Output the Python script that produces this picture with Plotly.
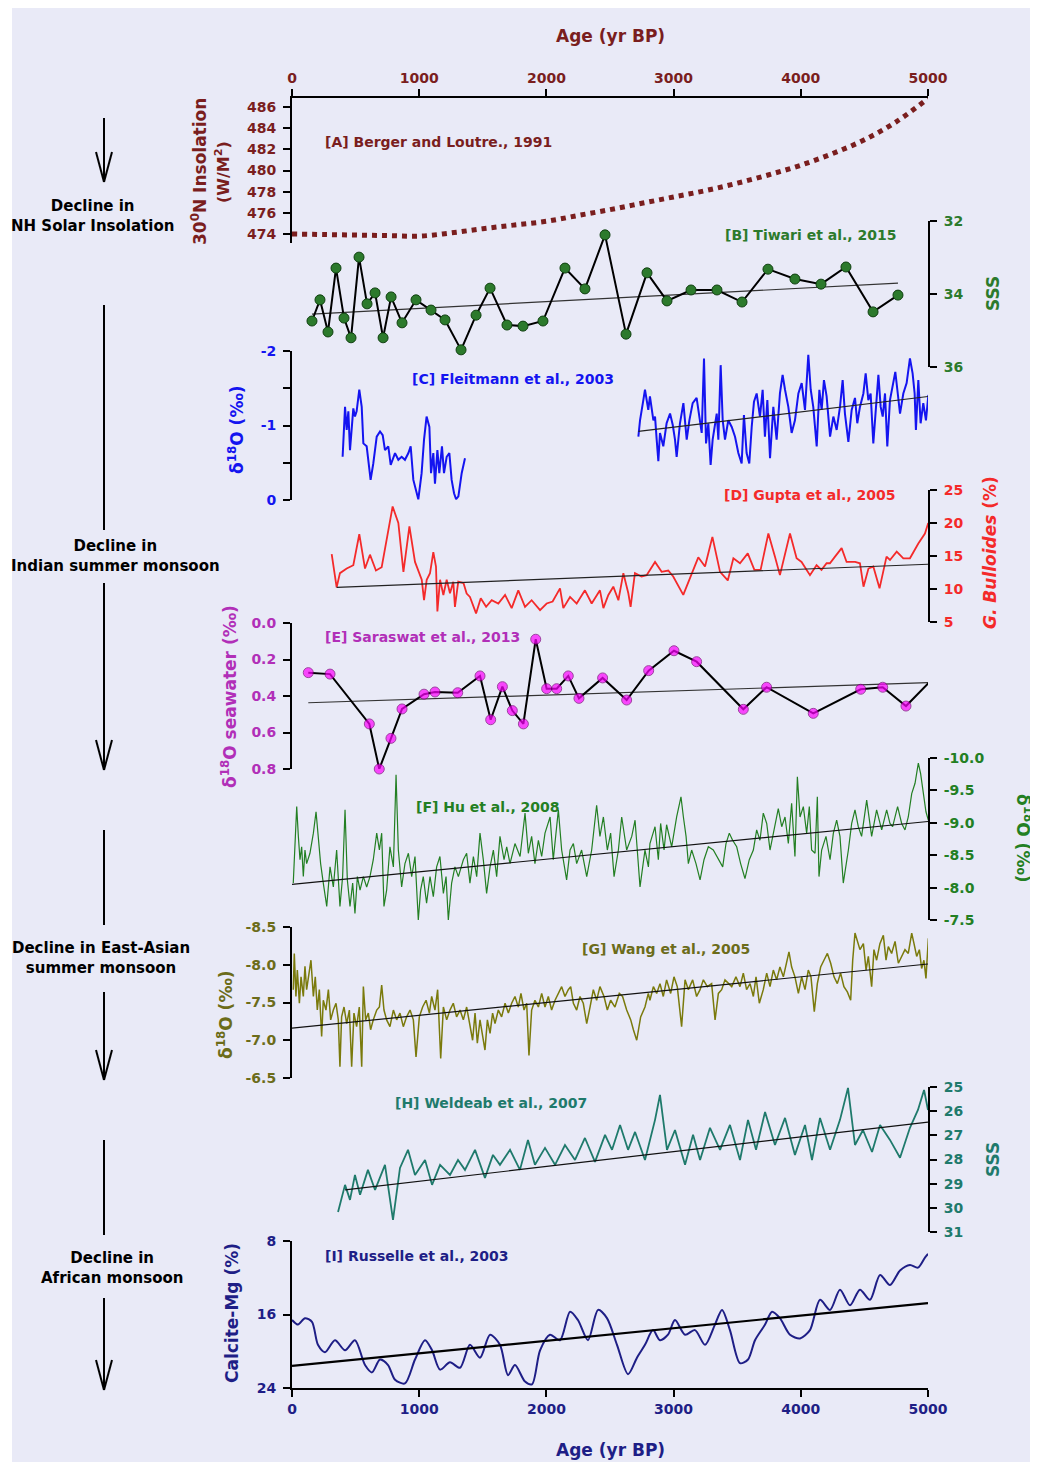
import plotly.graph_objects as go

# ---------------- data ----------------
ins_age = [0, 250, 500, 750, 1000, 1250, 1500, 1750, 2000, 2250, 2500, 2750, 3000,
           3250, 3500, 3750, 4000, 4250, 4500, 4750, 5000]
ins_val = [474.0, 473.95, 473.9, 473.85, 473.8, 474.1, 474.5, 474.85, 475.2, 475.75,
           476.3, 476.9, 477.5, 478.1, 478.8, 479.6, 480.5, 481.6, 482.9, 484.6, 486.8]

tiw_age = [157, 220, 283, 346, 409, 464, 527, 590, 653, 716, 779, 865, 975, 1093, 1203,
           1329, 1447, 1557, 1690, 1816, 1973, 2146, 2303, 2461, 2626, 2791, 2948, 3137,
           3341, 3538, 3742, 3954, 4159, 4355, 4568, 4764]
tiw_sss = [34.74, 34.16, 35.04, 33.29, 34.66, 35.2, 32.99, 34.27, 33.97, 35.2, 34.08,
           34.79, 34.16, 34.44, 34.71, 35.53, 34.58, 33.84, 34.85, 34.88, 34.74, 33.29,
           33.86, 32.38, 35.10, 33.42, 34.19, 33.89, 33.89, 34.22, 33.32, 33.59, 33.73,
           33.26, 34.49, 34.03]
tiw_trend_age = [157, 4764]
tiw_trend_val = [34.55, 33.70]

fle_age_a = [398, 417, 430, 443, 456, 469, 482, 495, 508, 529, 548, 561, 587, 618, 639,
             666, 692, 713, 731, 757, 776, 810, 836, 862, 888, 915, 933, 954, 975, 993,
             1019, 1038, 1058, 1080, 1093, 1111, 1124, 1143, 1158, 1179, 1195, 1216,
             1237, 1255, 1274, 1290, 1308, 1334, 1360]
fle_val_a = [-0.58, -1.25, -0.94, -1.19, -0.67, -0.94, -1.23, -1.12, -1.19, -1.48, -1.25,
             -0.76, -0.72, -0.27, -0.49, -0.85, -0.92, -0.87, -0.67, -0.72, -0.47, -0.63,
             -0.54, -0.58, -0.54, -0.63, -0.72, -0.27, -0.13, -0.01, -0.36, -0.81, -1.12,
             -0.98, -0.36, -0.63, -0.22, -0.67, -0.36, -0.72, -0.36, -0.58, -0.63, -0.27,
             -0.09, -0.01, -0.05, -0.36, -0.56]
fle_age_b = [2723, 2736, 2762, 2775, 2801, 2814, 2841, 2854, 2867, 2880, 2893, 2919, 2945,
             2972, 2993, 3011, 3024, 3050, 3077, 3103, 3124, 3150, 3181, 3208, 3221, 3239,
             3255, 3273, 3291, 3307, 3339, 3352, 3370, 3386, 3404, 3430, 3457, 3483, 3509,
             3535, 3553, 3574, 3595, 3614, 3632, 3653, 3679, 3700, 3718, 3737, 3758, 3784,
             3810, 3836, 3857, 3876, 3902, 3928, 3954, 3981, 4007, 4033, 4059, 4078, 4098,
             4125, 4146, 4164, 4182, 4203, 4230, 4256, 4282, 4308, 4329, 4347, 4374, 4400,
             4426, 4444, 4465, 4492, 4510, 4531, 4549, 4570, 4591, 4610, 4628, 4644, 4662,
             4680, 4701, 4722, 4743, 4759, 4780, 4806, 4832, 4858, 4879, 4895, 4905, 4924,
             4942, 4963, 4984, 5003]
fle_val_b = [-0.85, -1.07, -1.34, -1.48, -1.21, -1.39, -1.07, -1.12, -0.81, -0.52, -0.90,
             -0.72, -1.03, -1.16, -1.01, -0.81, -0.58, -1.03, -1.30, -0.81, -1.07, -1.30,
             -1.37, -1.07, -0.90, -1.90, -0.76, -1.03, -0.47, -0.81, -1.16, -0.81, -1.81,
             -1.07, -0.81, -1.07, -0.98, -0.85, -0.63, -0.49, -1.14, -0.63, -0.49, -0.98,
             -1.32, -1.43, -1.12, -1.48, -0.85, -1.34, -0.56, -1.25, -0.81, -1.43, -1.68,
             -1.48, -1.25, -0.90, -1.07, -1.43, -1.57, -1.21, -1.95, -1.48, -1.25, -0.72,
             -1.48, -1.21, -1.61, -1.39, -0.85, -1.12, -0.94, -1.25, -1.61, -1.16, -0.78,
             -1.21, -1.37, -1.03, -1.25, -1.43, -1.70, -1.34, -1.43, -0.76, -1.25, -1.68,
             -1.25, -1.12, -1.43, -0.72, -1.34, -1.52, -1.72, -1.48, -1.16, -1.43, -1.57,
             -1.90, -1.70, -1.43, -0.94, -1.61, -1.03, -1.30, -1.07, -1.41]
fle_trend_age = [2723, 5003]
fle_trend_val = [-0.92, -1.39]

gup_age = [312, 351, 377, 430, 482, 529, 574, 613, 660, 705, 791, 836, 876, 923, 967,
           1020, 1038, 1059, 1085, 1111, 1132, 1143, 1164, 1190, 1216, 1242, 1268, 1281,
           1307, 1348, 1373, 1399, 1447, 1484, 1526, 1570, 1622, 1675, 1727, 1779, 1832,
           1884, 1950, 2002, 2049, 2107, 2133, 2186, 2238, 2303, 2356, 2421, 2448, 2487,
           2526, 2566, 2605, 2644, 2662, 2696, 2748, 2788, 2854, 2906, 2958, 2997, 3076,
           3129, 3194, 3247, 3305, 3365, 3426, 3470, 3522, 3583, 3635, 3684, 3745, 3797,
           3836, 3915, 3967, 4006, 4072, 4124, 4163, 4203, 4229, 4269, 4321, 4360, 4427,
           4465, 4493, 4532, 4570, 4619, 4674, 4701, 4754, 4806, 4858, 4924, 4976, 5002]
gup_val = [15.3, 10.25, 12.4, 13.1, 13.6, 18.3, 13.1, 15.2, 12.8, 13.3, 22.5, 20.0, 12.6,
           19.5, 14.1, 11.4, 8.3, 11.4, 12.4, 15.6, 13.4, 6.6, 11.4, 9.1, 11.4, 9.35, 11.1,
           7.3, 11.1, 10.9, 9.3, 8.8, 6.3, 8.6, 7.3, 8.3, 7.8, 9.1, 7.1, 9.8, 7.3, 8.3, 6.8,
           7.8, 8.1, 10.1, 7.1, 8.8, 7.8, 9.8, 7.8, 9.8, 7.1, 9.1, 10.35, 8.3, 12.4, 9.35,
           7.3, 12.4, 11.9, 12.1, 14.1, 12.6, 12.8, 11.9, 9.1, 11.6, 14.8, 13.4, 17.9, 12.6,
           11.3, 14.65, 13.9, 15.4, 12.9, 12.9, 18.4, 14.9, 12.1, 18.4, 14.65, 14.1, 12.1,
           13.6, 12.9, 13.9, 13.9, 14.9, 16.2, 14.1, 14.1, 13.9, 10.35, 13.1, 13.4, 10.1,
           14.9, 14.4, 15.65, 14.65, 14.65, 16.9, 18.4, 20.0]
gup_trend_age = [351, 5000]
gup_trend_val = [10.25, 13.75]

sar_age = [128, 299, 608, 686, 778, 865, 1038, 1124, 1303, 1478, 1562, 1654, 1732, 1819,
           1916, 2002, 2081, 2172, 2256, 2442, 2631, 2804, 3003, 3181, 3548, 3731, 4098,
           4471, 4644, 4827, 5003]
sar_val = [0.272, 0.28, 0.553, 0.80, 0.632, 0.471, 0.39, 0.378, 0.382, 0.29, 0.53, 0.349,
           0.48, 0.553, 0.089, 0.36, 0.36, 0.29, 0.413, 0.301, 0.422, 0.261, 0.152, 0.212,
           0.473, 0.352, 0.495, 0.363, 0.352, 0.455, 0.33]
sar_trend_age = [128, 5003]
sar_trend_val = [0.437, 0.327]

hu_age = [10, 24, 37, 50, 63, 76, 89, 102, 115, 141, 168, 189, 207, 225, 246, 273, 299, 325,
          351, 377, 398, 417, 435, 456, 477, 495, 514, 535, 561, 587, 613, 639, 666, 687,
          705, 723, 744, 770, 797, 818, 836, 862, 888, 915, 941, 967, 993, 1011, 1032, 1058,
          1085, 1111, 1137, 1163, 1190, 1211, 1229, 1255, 1281, 1308, 1347, 1373, 1399,
          1426, 1452, 1478, 1504, 1530, 1557, 1583, 1609, 1635, 1667, 1688, 1714, 1753,
          1793, 1832, 1858, 1884, 1910, 1937, 1963, 1989, 2029, 2054, 2094, 2120, 2159,
          2186, 2212, 2238, 2277, 2317, 2356, 2395, 2421, 2448, 2479, 2505, 2532, 2566,
          2592, 2631, 2671, 2697, 2736, 2775, 2802, 2814, 2854, 2880, 2898, 2925, 2945,
          2966, 2985, 3024, 3058, 3077, 3098, 3116, 3142, 3176, 3208, 3239, 3273, 3312,
          3352, 3386, 3412, 3438, 3464, 3496, 3527, 3561, 3595, 3627, 3653, 3679, 3705,
          3732, 3758, 3784, 3805, 3823, 3850, 3876, 3902, 3928, 3954, 3973, 3994, 4020,
          4046, 4067, 4085, 4112, 4130, 4143, 4164, 4198, 4230, 4256, 4282, 4308, 4334,
          4374, 4400, 4426, 4452, 4478, 4518, 4557, 4596, 4636, 4675, 4701, 4722, 4761,
          4793, 4819, 4845, 4872, 4898, 4924, 4942, 4963, 4984, 5003]
hu_val = [-8.07, -8.58, -9.25, -8.79, -8.43, -8.63, -8.17, -8.58, -8.37, -8.53,
          -8.84, -9.17, -8.79, -8.37, -8.07, -7.71, -8.32, -8.01, -8.58, -7.71,
          -8.17, -9.20, -8.12, -7.71, -8.07, -7.60, -8.17, -7.96, -8.17, -8.01,
          -8.17, -8.43, -8.84, -8.58, -8.84, -7.71, -7.96, -8.63, -8.32, -9.74,
          -8.58, -8.01, -8.37, -8.53, -8.17, -8.48, -7.50, -7.96, -8.17, -7.76,
          -8.17, -7.86, -8.32, -8.48, -7.91, -8.17, -7.50, -8.07, -8.32, -8.17,
          -8.43, -8.53, -8.07, -8.48, -8.17, -8.84, -8.43, -7.91, -8.32, -8.58,
          -8.17, -8.79, -8.43, -8.63, -8.37, -8.68, -8.48, -9.15, -8.53, -8.79,
          -8.37, -8.73, -8.48, -8.84, -9.09, -8.43, -9.20, -8.58, -8.12, -8.58,
          -8.68, -8.37, -8.58, -8.17, -8.58, -9.27, -8.79, -9.09, -8.58, -8.84,
          -8.17, -8.58, -9.09, -8.58, -8.79, -9.04, -8.01, -8.58, -8.32,
          -8.68, -8.94, -8.43, -8.99, -8.58, -8.97, -8.79, -8.63, -9.09, -9.40,
          -9.09, -8.79, -8.37, -8.58, -8.37, -8.12, -8.43, -8.63, -8.58, -8.43,
          -8.32, -8.68, -8.84, -8.73, -8.63, -8.37, -8.14, -8.43, -8.58, -8.89,
          -8.73, -9.15, -8.99, -8.58, -8.84, -9.09, -9.22, -8.94, -9.09, -8.68,
          -9.30, -8.48, -9.71, -9.09, -9.25, -8.84, -9.25, -8.58, -8.53, -9.40,
          -8.17, -8.58, -8.79, -8.43, -8.84, -9.04, -8.79, -8.07, -8.58, -8.99,
          -9.20, -8.94, -8.79, -9.35, -8.79, -9.20, -8.89, -9.20, -8.99, -8.94,
          -9.25, -8.99, -8.89, -9.09, -9.45, -9.61, -9.92, -9.76, -9.45, -9.17,
          -9.04]
hu_trend_age = [0, 5000]
hu_trend_val = [-8.05, -9.02]

wang_age = [10, 18, 31, 42, 58, 71, 89, 102, 115, 134, 149, 168, 183, 199, 215, 233, 246,
            267, 286, 304, 325, 346, 364, 377, 390, 409, 430, 451, 469, 487, 508, 529, 548,
            561, 579, 600, 618, 639, 666, 687, 705, 723, 744, 770, 797, 823, 849, 875, 901,
            928, 954, 975, 1001, 1027, 1054, 1080, 1098, 1124, 1145, 1169, 1190, 1216, 1242,
            1268, 1294, 1321, 1347, 1373, 1399, 1420, 1439, 1457, 1478, 1499, 1517, 1536,
            1557, 1577, 1596, 1622, 1648, 1675, 1701, 1727, 1753, 1779, 1800, 1824, 1845,
            1863, 1884, 1910, 1937, 1963, 1989, 2015, 2041, 2068, 2094, 2120, 2146, 2172,
            2191, 2212, 2238, 2264, 2290, 2317, 2343, 2369, 2395, 2421, 2453, 2479, 2505,
            2539, 2573, 2599, 2631, 2663, 2684, 2710, 2741, 2775, 2801, 2814, 2841, 2867,
            2893, 2919, 2945, 2977, 3003, 3029, 3063, 3090, 3116, 3150, 3181, 3208, 3234,
            3265, 3299, 3326, 3352, 3378, 3404, 3430, 3457, 3490, 3522, 3548, 3574, 3601,
            3627, 3648, 3674, 3705, 3732, 3758, 3784, 3810, 3836, 3863, 3889, 3907, 3928,
            3954, 3981, 4007, 4033, 4059, 4080, 4106, 4130, 4156, 4182, 4209, 4235, 4261,
            4287, 4313, 4339, 4366, 4392, 4408, 4426, 4444, 4465, 4492, 4513, 4531, 4557,
            4575, 4596, 4622, 4649, 4670, 4688, 4714, 4741, 4767, 4793, 4819, 4845, 4872,
            4890, 4911, 4932, 4950, 4968, 4984, 5003]
wang_val = [-7.67, -8.15, -7.58, -7.93, -7.49, -7.84, -7.58, -7.98, -7.67, -7.89,
            -8.06, -7.58, -7.84, -7.40, -7.67, -7.05, -7.53, -7.40, -7.67, -7.27,
            -7.40, -7.49, -7.27, -6.65, -7.31, -7.44, -7.22, -7.40, -6.65, -7.36,
            -7.18, -7.44, -6.65, -7.71, -7.27, -7.36, -7.14, -7.27, -7.40, -7.44,
            -7.73, -7.40, -7.27, -7.18, -7.40, -7.27, -7.36, -7.18, -7.31, -7.40,
            -7.27, -6.78, -7.31, -7.44, -7.53, -7.36, -7.58, -7.40, -7.67, -6.76,
            -7.44, -7.27, -7.40, -7.49, -7.31, -7.40, -7.27, -7.44, -7.18, -7.00,
            -7.36, -6.96, -7.27, -7.05, -6.87, -7.27, -7.09, -7.36, -7.22, -7.40,
            -7.31, -7.49, -7.36, -7.49, -7.58, -7.44, -7.62, -7.40, -7.49, -6.80,
            -7.40, -7.53, -7.44, -7.62, -7.44, -7.58, -7.40, -7.53, -7.62, -7.71,
            -7.58, -7.67, -7.71, -7.49, -7.40, -7.58, -7.49, -7.22, -7.44, -7.67,
            -7.53, -7.71, -7.58, -7.40, -7.53, -7.44, -7.62, -7.58, -7.40, -7.27,
            -7.14, -7.00, -7.31, -7.44, -7.62,
            -7.53, -7.71, -7.62, -7.75, -7.58, -7.80, -7.62, -7.84, -7.71, -7.18,
            -7.80, -7.67, -7.80, -7.58, -7.67, -7.80, -7.71, -7.75, -7.27, -7.62,
            -7.67, -7.80, -7.75, -7.71, -7.84, -7.71, -7.89, -7.67, -7.75, -7.58,
            -7.84, -7.49, -7.67, -7.89, -7.71, -7.93, -7.80, -7.97, -7.84, -8.02,
            -8.17, -7.97, -7.84, -7.62, -7.84, -7.67, -7.93, -7.84, -7.38, -7.75,
            -7.97, -8.06, -8.15, -8.02, -7.84, -7.75, -7.89, -7.71, -7.64, -7.53,
            -8.06, -8.42, -8.33, -8.20, -8.28, -7.93, -8.11, -7.71, -8.20, -8.06,
            -8.28, -8.39, -8.06, -8.24, -8.15, -8.31, -8.02, -8.11, -8.20, -8.15,
            -8.42, -8.28, -8.11, -8.20, -7.95, -8.06, -7.82, -8.35]
wang_trend_age = [0, 5000]
wang_trend_val = [-7.16, -8.01]

wel_age = [362, 417, 456, 495, 535, 597, 653, 731, 794, 849, 912, 967, 1046, 1101, 1164,
           1242, 1305, 1360, 1439, 1517, 1580, 1635, 1714, 1792, 1855, 1910, 1989, 2068,
           2146, 2225, 2303, 2382, 2461, 2516, 2579, 2642, 2697, 2775, 2854, 2893, 2948,
           3011, 3090, 3153, 3208, 3286, 3365, 3443, 3522, 3585, 3648, 3719, 3797, 3876,
           3954, 4033, 4088, 4151, 4230, 4308, 4371, 4426, 4489, 4560, 4623, 4701, 4780,
           4858, 4921, 4969, 5000]
wel_sss = [30.17, 29.05, 29.67, 28.64, 29.46, 28.43, 29.26, 28.22, 30.50, 28.35,
           27.60, 28.64, 28.02, 29.05, 28.22, 28.64, 28.02, 28.43, 27.60, 28.76,
           27.81, 28.22, 27.60, 28.43, 27.19, 28.22, 27.52, 28.22, 27.40, 28.02,
           27.11, 28.10, 26.98, 27.60, 26.57, 27.60, 26.86, 28.02, 26.36, 25.33,
           27.60, 26.78, 28.22, 26.98, 28.02, 26.69, 27.60, 26.57, 28.02, 26.36,
           27.60, 26.03, 27.40, 26.28, 27.81, 26.57, 28.02, 26.28, 27.60, 26.36,
           25.04, 27.40, 26.78, 27.69, 26.57, 27.19, 27.93, 26.69, 25.95, 25.12, 25.95]
wel_trend_age = [417, 5000]
wel_trend_val = [29.26, 26.45]

rus_age = [0, 47, 102, 157, 204, 259, 338, 417, 495, 574, 629, 692, 755, 810, 888, 967,
           1046, 1101, 1164, 1242, 1321, 1399, 1478, 1557, 1635, 1698, 1753, 1832, 1887,
           1950, 2028, 2107, 2186, 2248, 2327, 2406, 2476, 2555, 2642, 2712, 2775, 2838,
           2893, 2956, 3011, 3090, 3168, 3247, 3325, 3381, 3443, 3522, 3585, 3640, 3719,
           3774, 3836, 3915, 3994, 4072, 4151, 4230, 4308, 4387, 4465, 4544, 4623, 4701,
           4780, 4858, 4921, 4976, 5000]
rus_val = [16.6, 17.1, 16.4, 16.8, 19.3, 20.1, 18.8, 19.9, 18.8, 21.5, 22.3, 20.9, 21.5,
           23.1, 23.5, 20.9, 18.8, 19.9, 22.0, 21.2, 21.8, 19.3, 20.7, 18.2, 19.3, 22.6,
           21.5, 23.3, 23.6, 19.9, 18.2, 18.8, 15.7, 16.6, 18.8, 15.5, 16.4, 19.3, 22.5,
           20.7, 19.3, 17.7, 18.8, 18.2, 16.6, 18.2, 17.7, 19.3, 17.1, 15.5, 17.7, 21.3,
           20.9, 18.8, 17.1, 15.7, 16.4, 18.2, 18.6, 17.7, 14.4, 15.5, 13.3, 15.0, 13.3,
           14.4, 11.7, 12.8, 11.2, 10.6, 10.9, 9.8, 9.4]
rus_trend_age = [0, 5000]
rus_trend_val = [21.6, 14.75]

age_ticks = [0, 1000, 2000, 3000, 4000, 5000]

# ---------------- styling ----------------
FONT = "DejaVu Sans"
# the page body has an 8 px margin, so the figure is drawn 8 px smaller
W, H = 1030, 1454
L, R, T, B = 284, 110, 90, 74
PW, PH = W - L - R, H - T - B
OX, OY = 292, 1388   # plot-area origin in screen pixels

C_A = "#7A1E1E"
C_B = "#2C7A2C"
C_C = "#1414F0"
C_D = "#F42A2A"
C_E = "#FF00FF"
C_Et = "#B12FB8"
C_F = "#237F23"
C_G = "#7A7A0C"
C_Gt = "#6C6C1A"
C_H = "#1F7A6C"
C_I = "#1E1E86"


def fx(x):
    return (x - OX) / PW


def fy(y):
    return (OY - y) / PH


def dom(ytop, ybot):
    return [fy(ybot), fy(ytop)]


def yax(side, domain, rng, tickvals, ticktext, color):
    return dict(domain=domain, range=rng, side=side, anchor="x",
                showline=True, linecolor="black", linewidth=2,
                ticks="outside", ticklen=7, tickwidth=2, tickcolor="black",
                tickvals=tickvals, ticktext=ticktext,
                tickfont=dict(family=FONT, size=14, color=color, weight="bold"),
                ticklabelstandoff=4,
                showgrid=False, zeroline=False, fixedrange=True)


fig = go.Figure()

# A
fig.add_trace(go.Scatter(x=ins_age, y=ins_val, xaxis="x2", yaxis="y", mode="lines",
                         line=dict(color=C_A, width=5, dash="dot", shape="spline"),
                         showlegend=False))
# B
fig.add_trace(go.Scatter(x=tiw_trend_age, y=tiw_trend_val, yaxis="y2", mode="lines",
                         line=dict(color="#333333", width=1.2), showlegend=False))
fig.add_trace(go.Scatter(x=tiw_age, y=tiw_sss, yaxis="y2", mode="lines+markers",
                         line=dict(color="black", width=2),
                         marker=dict(color=C_B, size=10, line=dict(color="#104010", width=1)),
                         cliponaxis=False, showlegend=False))
# C
fig.add_trace(go.Scatter(x=fle_age_a, y=fle_val_a, yaxis="y3", mode="lines",
                         line=dict(color=C_C, width=2), showlegend=False))
fig.add_trace(go.Scatter(x=fle_age_b, y=fle_val_b, yaxis="y3", mode="lines",
                         line=dict(color=C_C, width=2), showlegend=False))
fig.add_trace(go.Scatter(x=fle_trend_age, y=fle_trend_val, yaxis="y3", mode="lines",
                         line=dict(color="#222222", width=1.2), showlegend=False))
# D
fig.add_trace(go.Scatter(x=gup_age, y=gup_val, yaxis="y4", mode="lines",
                         line=dict(color=C_D, width=1.8), showlegend=False))
fig.add_trace(go.Scatter(x=gup_trend_age, y=gup_trend_val, yaxis="y4", mode="lines",
                         line=dict(color="#222222", width=1.2), showlegend=False))
# E
fig.add_trace(go.Scatter(x=sar_trend_age, y=sar_trend_val, yaxis="y5", mode="lines",
                         line=dict(color="#333333", width=1.2), showlegend=False))
fig.add_trace(go.Scatter(x=sar_age, y=sar_val, yaxis="y5", mode="lines+markers",
                         line=dict(color="black", width=2),
                         marker=dict(color=C_E, size=[10] * (len(sar_age) - 1) + [0],
                                     line=dict(color="#7A007A", width=1)),
                         cliponaxis=False, showlegend=False))
# F
fig.add_trace(go.Scatter(x=hu_age, y=hu_val, yaxis="y6", mode="lines",
                         line=dict(color=C_F, width=1.2), showlegend=False))
fig.add_trace(go.Scatter(x=hu_trend_age, y=hu_trend_val, yaxis="y6", mode="lines",
                         line=dict(color="#111111", width=1.2), showlegend=False))
# G
fig.add_trace(go.Scatter(x=wang_age, y=wang_val, yaxis="y7", mode="lines",
                         line=dict(color=C_G, width=1.5), showlegend=False))
fig.add_trace(go.Scatter(x=wang_trend_age, y=wang_trend_val, yaxis="y7", mode="lines",
                         line=dict(color="#111111", width=1.2), showlegend=False))
# H
fig.add_trace(go.Scatter(x=wel_age, y=wel_sss, yaxis="y8", mode="lines",
                         line=dict(color=C_H, width=1.8), showlegend=False))
fig.add_trace(go.Scatter(x=wel_trend_age, y=wel_trend_val, yaxis="y8", mode="lines",
                         line=dict(color="#111111", width=1.2), showlegend=False))
# I
fig.add_trace(go.Scatter(x=rus_age, y=rus_val, yaxis="y9", mode="lines",
                         line=dict(color=C_I, width=2, shape="spline", smoothing=0.8),
                         showlegend=False))
fig.add_trace(go.Scatter(x=rus_trend_age, y=rus_trend_val, yaxis="y9", mode="lines",
                         line=dict(color="black", width=2.2), showlegend=False))

xcommon = dict(range=[0, 5000], tickvals=age_ticks, showgrid=False, zeroline=False,
               showline=True, linecolor="black", linewidth=2, ticks="outside",
               ticklen=7, tickwidth=2, tickcolor="black", fixedrange=True)

layout = dict(
    width=W, height=H,
    margin=dict(l=L, r=R, t=T, b=B),
    paper_bgcolor="white", plot_bgcolor="rgba(0,0,0,0)",
    showlegend=False,
    xaxis=dict(**xcommon, anchor="y9", side="bottom",
               tickfont=dict(family=FONT, size=14, color=C_I, weight="bold")),
    xaxis2=dict(**xcommon, anchor="y", side="top", overlaying="x",
                tickfont=dict(family=FONT, size=14, color=C_A, weight="bold")),
    yaxis=yax("left", dom(98, 243), [473.15, 486.85], [474, 476, 478, 480, 482, 484, 486],
              ["474", "476", "478", "480", "482", "484", "486"], C_A),
    yaxis2=yax("right", dom(221, 367), [36, 32], [32, 34, 36], ["32", "34", "36"], C_B),
    yaxis3=yax("left", dom(351, 500), [0, -2], [-2, -1.5, -1, -0.5, 0],
               ["-2", " ", "-1", " ", "0"], C_C),
    yaxis4=yax("right", dom(490, 622), [5, 25], [5, 10, 15, 20, 25],
               ["5", "10", "15", "20", "25"], C_D),
    yaxis5=yax("left", dom(623, 769), [0.8, 0.0], [0.0, 0.2, 0.4, 0.6, 0.8],
               ["0.0", "0.2", "0.4", "0.6", "0.8"], C_Et),
    yaxis6=yax("right", dom(758, 920), [-7.5, -10.0], [-10, -9.5, -9, -8.5, -8, -7.5],
               ["-10.0", "-9.5", "-9.0", "-8.5", "-8.0", "-7.5"], C_F),
    yaxis7=yax("left", dom(927, 1078), [-6.5, -8.5], [-8.5, -8, -7.5, -7, -6.5],
               ["-8.5", "-8.0", "-7.5", "-7.0", "-6.5"], C_Gt),
    yaxis8=yax("right", dom(1087, 1232), [31, 25], [25, 26, 27, 28, 29, 30, 31],
               ["25", "26", "27", "28", "29", "30", "31"], C_H),
    yaxis9=yax("left", dom(1241, 1388), [24, 8], [8, 16, 24], ["8", "16", "24"], C_I),
)
fig.update_layout(**layout)

ann = []


def text(x, y, s, color, size=14, angle=0, xanchor="center", align="center"):
    ann.append(dict(x=fx(x), y=fy(y), xref="paper", yref="paper", text=s,
                    showarrow=False, textangle=angle, xanchor=xanchor, yanchor="middle",
                    align=align,
                    font=dict(family=FONT, size=size, color=color, weight="bold")))


# axis titles
text(610, 36, "Age (yr BP)", C_A, 17)
text(610, 1450, "Age (yr BP)", C_I, 17)
text(199, 172, "30<sup>0</sup>N Insolation", C_A, 17, -90)
text(222, 172, "(W/M<sup>2</sup>)", C_A, 16, -90)
text(236, 430, "δ<sup>18</sup>O (‰)", C_C, 17, -90)
text(229, 697, "δ<sup>18</sup>O seawater (‰)", C_Et, 17, -90)
text(225, 1015, "δ<sup>18</sup>O (‰)", C_Gt, 17, -90)
text(232, 1313, "Calcite-Mg (%)", C_I, 17, -90)
text(993, 294, "SSS", C_B, 17, -90)
text(990, 553, "<i>G. Bulloides</i> (%)", C_D, 17, -90)
text(1024, 838, "δ<sup>18</sup>O (‰)", C_F, 17, 90)
text(993, 1160, "SSS", C_H, 17, -90)

# panel labels
text(323, 142, "[A] Berger and Loutre., 1991", C_A, 14, xanchor="left")
text(898, 235, "[B] Tiwari et al., 2015", C_B, 14, xanchor="right")
text(410, 379, "[C] Fleitmann et al., 2003", C_C, 14, xanchor="left")
text(898, 495, "[D] Gupta et al., 2005", C_D, 14, xanchor="right")
text(323, 637, "[E] Saraswat et al., 2013", C_Et, 14, xanchor="left")
text(414, 807, "[F] Hu et al., 2008", C_F, 14, xanchor="left")
text(580, 949, "[G] Wang et al., 2005", C_Gt, 14, xanchor="left")
text(393, 1103, "[H] Weldeab et al., 2007", C_H, 14, xanchor="left")
text(323, 1256, "[I] Russelle et al., 2003", C_I, 14, xanchor="left")

# left-side notes
text(92, 216, "Decline in<br>NH Solar Insolation", "black", 15)
text(115, 556, "Decline in<br>Indian summer monsoon", "black", 15)
text(101, 958, "Decline in East-Asian<br>summer monsoon", "black", 15)
text(112, 1268, "Decline in<br>African monsoon", "black", 15)

shapes = [dict(type="rect", xref="paper", yref="paper", x0=fx(12), x1=fx(1030),
               y0=fy(1470), y1=fy(8), fillcolor="#E9EAF7", line=dict(width=0),
               layer="below")]


def vline(y0, y1, head=False):
    shapes.append(dict(type="line", xref="paper", yref="paper", x0=fx(104), x1=fx(104),
                       y0=fy(y0), y1=fy(y1), line=dict(color="black", width=2)))
    if head:
        for dx in (-8, 8):
            shapes.append(dict(type="line", xref="paper", yref="paper",
                               x0=fx(104), x1=fx(104 + dx), y0=fy(y1), y1=fy(y1 - 30),
                               line=dict(color="black", width=2)))


vline(118, 182, True)
vline(305, 530)
vline(583, 770, True)
vline(830, 925)
vline(992, 1080, True)
vline(1140, 1235)
vline(1298, 1390, True)

fig.update_layout(annotations=ann, shapes=shapes)
fig.write_html("out.html")
